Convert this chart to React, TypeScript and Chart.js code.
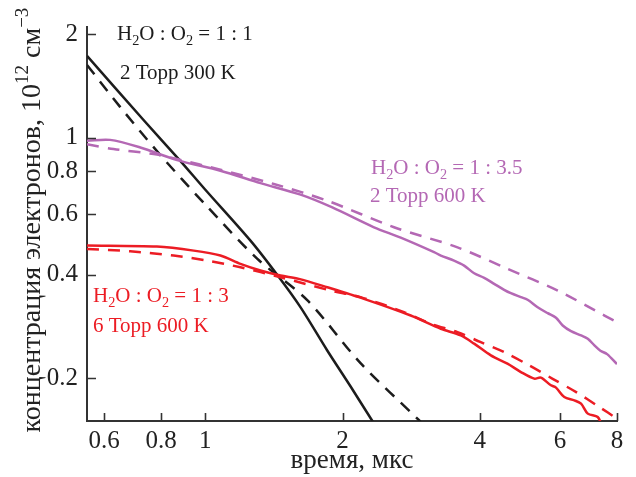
import { useEffect, useRef } from "react";
import { Chart, registerables } from "chart.js";

Chart.register(...registerables);

// ---- axes ----
const xTicks = [0.6, 0.8, 1, 2, 4, 6, 8];
const yTicks = [0.2, 0.4, 0.6, 0.8, 1, 2];
const xMin = 0.55;
const xMax = 8;
const yMin = 0.15;
const yMax = 2.1;

// ---- H2O:O2 = 1:1, 2 Torr 300 K (black) ----
const blackSolidT = [0.55, 0.731, 0.881, 1.0, 1.256, 1.44, 1.618, 1.851, 2.083, 2.325, 2.36];
const blackSolidN = [1.73, 1.128, 0.857, 0.706, 0.502, 0.398, 0.321, 0.2406, 0.189, 0.15, 0.146];
const blackDashT = [0.55, 0.65, 0.796, 1.0, 1.299, 1.673, 2.19, 2.943, 3.0];
const blackDashN = [1.629, 1.23, 0.892, 0.639, 0.445, 0.337, 0.221, 0.1508, 0.147];

// ---- H2O:O2 = 1:3.5, 2 Torr 600 K (purple) ----
const purpleSolidT = [0.55, 0.618, 0.72, 0.867, 1.079, 1.321, 1.618, 1.899, 2.344, 2.683, 3.175, 3.286, 3.512, 3.696, 3.888, 4.09, 4.301, 4.524, 4.68, 4.924, 5.093, 5.358, 5.636, 5.878, 6.081, 6.341, 6.672, 6.902, 7.136, 7.356, 7.609, 8.0];
const purpleSolidN = [0.98, 0.986, 0.937, 0.861, 0.802, 0.738, 0.683, 0.627, 0.549, 0.5124, 0.465, 0.4543, 0.4393, 0.4248, 0.4035, 0.3913, 0.3759, 0.3611, 0.353, 0.3438, 0.3378, 0.3215, 0.3088, 0.2995, 0.2844, 0.2738, 0.2661, 0.2603, 0.2489, 0.2402, 0.2348, 0.2196];
const purpleDashT = [0.55, 0.629, 0.77, 0.867, 1.079, 1.413, 1.851, 2.594, 3.574, 4.6, 5.93, 7.51, 8.0];
const purpleDashN = [0.957, 0.927, 0.897, 0.867, 0.807, 0.734, 0.656, 0.549, 0.48, 0.4157, 0.3594, 0.304, 0.291];

// ---- H2O:O2 = 1:3, 6 Torr 600 K (red) ----
const redSolidT = [0.55, 0.783, 0.943, 1.079, 1.194, 1.321, 1.462, 1.603, 1.851, 2.228, 2.822, 3.286, 3.635, 3.888, 4.23, 4.6, 4.924, 5.267, 5.446, 5.73, 5.878, 6.13, 6.45, 6.672, 6.902, 7.258, 7.418];
const redSolidN = [0.486, 0.4825, 0.4696, 0.4543, 0.4297, 0.411, 0.3974, 0.3887, 0.3674, 0.34, 0.304, 0.2782, 0.266, 0.2518, 0.2328, 0.2202, 0.2082, 0.1992, 0.2005, 0.1905, 0.1876, 0.1761, 0.1723, 0.1685, 0.1576, 0.1541, 0.145];
const redDashT = [0.55, 0.684, 0.852, 1.009, 1.194, 1.462, 1.883, 2.19, 2.728, 3.123, 3.574, 4.02, 4.525, 5.135, 5.78, 6.51, 7.32, 8.0];
const redDashN = [0.475, 0.4675, 0.4543, 0.4393, 0.42, 0.3928, 0.3594, 0.3438, 0.311, 0.2877, 0.272, 0.2543, 0.2379, 0.2177, 0.199, 0.182, 0.1647, 0.1524];

const BLACK = "#1c1c1c";
const PURPLE = "#b468b4";
const RED = "#ec1c24";
const FONT = "'Liberation Serif', 'Times New Roman', serif";

const pts = (t: number[], n: number[]) => t.map((v, i) => ({ x: v, y: n[i] }));

type Part = { t: string; s?: "sub" | "sup" };

function drawRich(ctx: CanvasRenderingContext2D, parts: Part[], x: number, y: number, size: number, measureOnly = false) {
  let cx = x;
  for (const p of parts) {
    const fs = p.s ? size * 0.68 : size;
    ctx.font = `${fs}px ${FONT}`;
    const dy = p.s === "sub" ? size * 0.22 : p.s === "sup" ? -size * 0.42 : 0;
    if (!measureOnly) ctx.fillText(p.t, cx, y + dy);
    cx += ctx.measureText(p.t).width;
  }
  return cx - x;
}

const ratio = (r: string): Part[] => [
  { t: "H" }, { t: "2", s: "sub" }, { t: "O : O" }, { t: "2", s: "sub" }, { t: " = 1 : " + r },
];

const labels: { parts: Part[]; x: number; y: number; color: string }[] = [
  { parts: ratio("1"), x: 117, y: 40, color: BLACK },
  { parts: [{ t: "2 Торр 300 K" }], x: 120, y: 79, color: BLACK },
  { parts: ratio("3.5"), x: 371, y: 174, color: PURPLE },
  { parts: [{ t: "2 Торр 600 K" }], x: 370, y: 202, color: PURPLE },
  { parts: ratio("3"), x: 93, y: 302, color: RED },
  { parts: [{ t: "6 Торр 600 K" }], x: 93, y: 332, color: RED },
];

const yTitle: Part[] = [
  { t: "концентрация электронов, 10" }, { t: "12", s: "sup" }, { t: " см" }, { t: "−3", s: "sup" },
];

const decorPlugin = {
  id: "decor",
  afterDatasetsDraw(chart: any) {
    const { ctx, chartArea, scales } = chart;
    ctx.save();
    ctx.strokeStyle = "#333";
    ctx.lineWidth = 1.6;
    ctx.beginPath();
    for (const v of xTicks) {
      const px = Math.round(scales.x.getPixelForValue(v)) + 0.5;
      ctx.moveTo(px, chartArea.bottom);
      ctx.lineTo(px, chartArea.bottom - 8);
    }
    for (const v of yTicks) {
      const py = Math.round(scales.y.getPixelForValue(v)) + 0.5;
      ctx.moveTo(chartArea.left, py);
      ctx.lineTo(chartArea.left + 9, py);
    }
    ctx.stroke();

    ctx.textBaseline = "alphabetic";
    ctx.textAlign = "left";
    for (const l of labels) {
      ctx.fillStyle = l.color;
      drawRich(ctx, l.parts, l.x, l.y, 21);
    }

    // y axis title with superscripts
    ctx.fillStyle = "#222";
    const size = 28;
    const w = drawRich(ctx, yTitle, 0, 0, size, true);
    ctx.translate(40, 220);
    ctx.rotate(-Math.PI / 2);
    drawRich(ctx, yTitle, -w / 2, 0, size);
    ctx.restore();
  },
};

export default function App() {
  const ref = useRef<HTMLCanvasElement>(null);
  useEffect(() => {
    if (!ref.current) return;
    const line = (data: any, color: string, dashed: boolean) => ({
      data,
      borderColor: color,
      borderWidth: 2.5,
      borderDash: dashed ? [12, 9] : [],
      pointRadius: 0,
      fill: false,
      tension: 0.3,
    });
    const chart = new Chart(ref.current, {
      type: "line",
      data: {
        datasets: [
          line(pts(purpleDashT, purpleDashN), PURPLE, true),
          line(pts(purpleSolidT, purpleSolidN), PURPLE, false),
          line(pts(redDashT, redDashN), RED, true),
          line(pts(redSolidT, redSolidN), RED, false),
          line(pts(blackDashT, blackDashN), BLACK, true),
          line(pts(blackSolidT, blackSolidN), BLACK, false),
        ] as any,
      },
      options: {
        animation: false,
        responsive: false,
        maintainAspectRatio: false,
        layout: { padding: { top: 27, right: 19, left: 0, bottom: 0 } },
        plugins: { legend: { display: false }, tooltip: { enabled: false } },
        scales: {
          x: {
            type: "logarithmic",
            min: xMin,
            max: xMax,
            afterBuildTicks: (s: any) => {
              s.ticks = xTicks.map((v) => ({ value: v }));
            },
            afterFit: (s: any) => {
              s.height = 56;
            },
            ticks: {
              callback: (v: any) => String(v),
              font: { family: FONT, size: 25 },
              color: "#222",
              padding: 5,
              maxRotation: 0,
              autoSkip: false,
            },
            grid: { drawOnChartArea: false, drawTicks: false },
            border: { color: "#333", width: 2 },
            title: {
              display: true,
              text: "время, мкс",
              font: { family: FONT, size: 27 },
              color: "#222",
              padding: { top: 0, bottom: 0 },
            },
          },
          y: {
            type: "logarithmic",
            min: yMin,
            max: yMax,
            afterBuildTicks: (s: any) => {
              s.ticks = yTicks.map((v) => ({ value: v }));
            },
            afterFit: (s: any) => {
              s.width = 87;
            },
            ticks: {
              callback: (v: any) => String(v),
              font: { family: FONT, size: 25 },
              color: "#222",
              padding: 9,
              autoSkip: false,
            },
            grid: { drawOnChartArea: false, drawTicks: false },
            border: { color: "#333", width: 2 },
          },
        },
      } as any,
      plugins: [decorPlugin],
    });
    return () => chart.destroy();
  }, []);
  return (
    <div style={{ position: "fixed", left: 0, top: 0, width: 636, height: 477, background: "#fff" }}>
      <canvas ref={ref} width={636} height={477} style={{ width: 636, height: 477 }} />
    </div>
  );
}
